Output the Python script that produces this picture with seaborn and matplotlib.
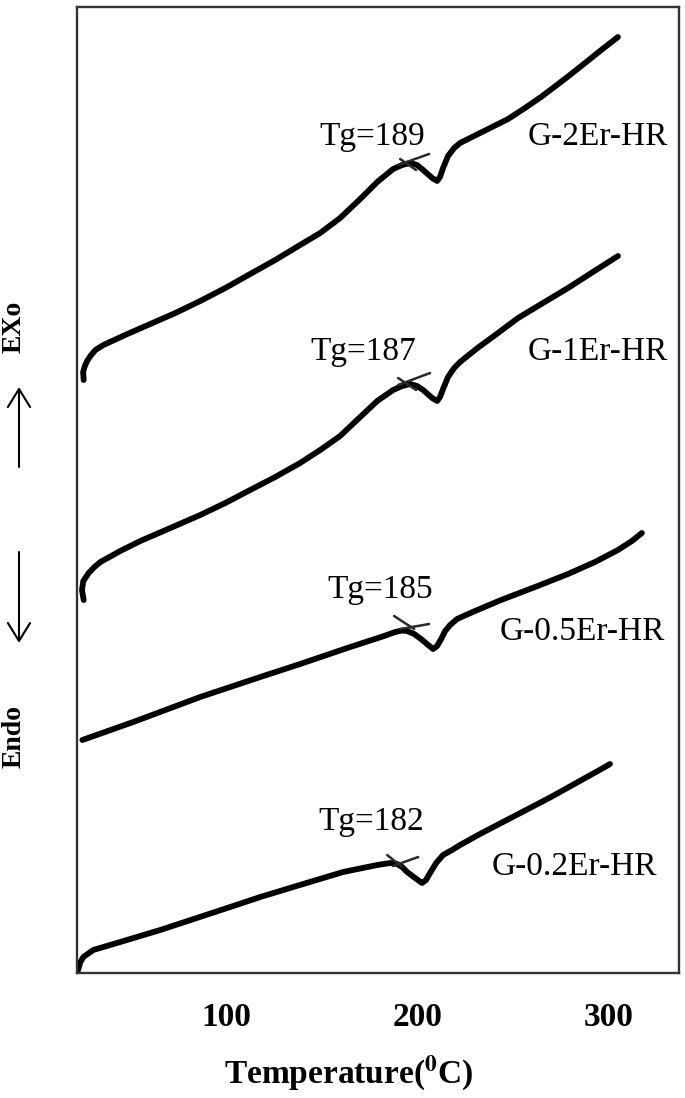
import numpy as np
import pandas as pd
import matplotlib
matplotlib.use("Agg")
import matplotlib.pyplot as plt
import seaborn as sns

# DSC traces (temperature in degC, heat flow in arbitrary units, curves offset)
t_2er = [25.5, 25.2, 26.1, 27.3, 29.0, 31.6, 35.8, 48.3, 60.3, 73.4, 86.4, 99.5, 112.5, 125.6,
         138.6, 149.1, 159.5, 170.0, 178.9, 187.2, 191.9, 196.1, 199.7, 202.9, 207.6, 210.2,
         211.7, 213.3, 215.9, 219.1, 222.2, 229.5, 237.9, 247.3, 256.1, 264.5, 272.8, 279.6,
         287.5, 295.3, 304.7]
h_2er = [59.3, 60.1, 60.7, 61.2, 61.7, 62.3, 62.8, 63.9, 64.9, 66.0, 67.2, 68.5, 69.9, 71.3,
         72.8, 74.0, 75.5, 77.4, 79.1, 80.4, 80.8, 81.0, 80.8, 80.3, 79.5, 79.2,
         79.6, 80.5, 81.7, 82.5, 83.0, 83.7, 84.5, 85.4, 86.5, 87.6, 88.8, 89.8,
         91.0, 92.2, 93.6]

t_1er = [25.5, 24.6, 25.3, 28.1, 31.1, 34.2, 44.6, 55.1, 70.8, 86.4, 99.5, 112.5, 125.6, 138.6,
         149.1, 159.5, 170.0, 178.9, 187.2, 191.9, 196.1, 199.7, 202.9, 207.6, 210.2, 211.7,
         213.3, 215.9, 219.1, 222.2, 231.3, 242.0, 252.5, 265.5, 278.6, 291.6, 304.7]
h_1er = [37.3, 38.3, 39.2, 40.0, 40.6, 41.1, 42.2, 43.2, 44.5, 45.8, 47.0, 48.3, 49.6, 51.0,
         52.3, 53.7, 55.6, 57.2, 58.3, 58.7, 58.9, 58.7, 58.3, 57.5, 57.2, 57.6,
         58.4, 59.6, 60.5, 61.1, 62.5, 64.0, 65.5, 67.0, 68.5, 70.1, 71.7]

t_05er = [24.8, 51.4, 86.4, 117.8, 138.6, 164.8, 182.5, 188.3, 191.9, 194.5, 198.2, 201.8,
          205.5, 208.1, 210.2, 212.3, 214.4, 217.0, 220.6, 230.0, 243.6, 261.4, 278.6, 292.7,
          304.7, 312.0, 317.2]
h_05er = [23.3, 25.1, 27.6, 29.6, 30.9, 32.6, 33.7, 34.1, 34.25, 34.2, 33.9, 33.4,
          32.8, 32.4, 32.7, 33.4, 34.2, 34.8, 35.4, 36.2, 37.3, 38.6, 39.9, 41.1,
          42.3, 43.2, 44.0]

t_02er = [22.2, 23.8, 25.3, 30.5, 44.6, 65.5, 100.5, 117.8, 135.0, 161.1, 178.9, 185.6, 189.3,
          191.9, 194.5, 198.7, 202.3, 204.4, 206.5, 209.7, 213.3, 218.0, 222.2, 232.6, 243.6,
          256.7, 269.7, 283.8, 297.9, 300.5]
h_02er = [0.1, 1.1, 1.6, 2.3, 3.1, 4.3, 6.5, 7.6, 8.6, 10.1, 10.8, 11.0, 10.9,
          10.6, 10.1, 9.5, 9.0, 9.3, 10.0, 11.0, 11.8, 12.3, 12.8, 13.9, 15.0,
          16.3, 17.6, 19.1, 20.6, 20.9]

samples = ["G-2Er-HR", "G-1Er-HR", "G-0.5Er-HR", "G-0.2Er-HR"]
tg_values = [189, 187, 185, 182]

# tangent construction marks: two short strokes per curve (T0, T1, H0, H1)
tangents = [
    [(189.8, 206.0, 80.8, 81.9), (190.9, 199.2, 81.4, 80.3)],
    [(189.8, 206.5, 58.8, 60.0), (189.8, 199.2, 59.5, 58.3)],
    [(191.1, 206.0, 34.4, 34.9), (187.7, 198.2, 35.7, 34.4)],
    [(187.2, 200.3, 10.7, 11.6), (184.1, 191.9, 11.8, 10.6)],
]

# label anchor points (T, H) for Tg text and sample names
tg_pos = [(176.2, 82.8), (171.5, 61.3), (180.2, 37.5), (176.0, 14.3)]
name_pos = [(294.0, 82.8), (294.0, 61.3), (286.2, 33.3), (281.7, 9.8)]

curves = [(t_2er, h_2er), (t_1er, h_1er), (t_05er, h_05er), (t_02er, h_02er)]

sns.set_style("white")
plt.rcParams['font.family'] = ['Liberation Serif', 'DejaVu Serif']
plt.rcParams['mathtext.fontset'] = 'stix'
plt.rcParams['text.color'] = 'black'
plt.rcParams['axes.labelcolor'] = 'black'
plt.rcParams['xtick.labelcolor'] = 'black'

fig = plt.figure(figsize=(6.85, 10.98), dpi=100)
ax = fig.add_axes([77 / 685, 1 - 973 / 1098, 602 / 685, 966 / 1098])

for (t, h), name in zip(curves, samples):
    df = pd.DataFrame({"T": t, "H": h})
    sns.lineplot(data=df, x="T", y="H", ax=ax, sort=False, estimator=None,
                 color="black", lw=4.2, solid_capstyle="round", solid_joinstyle="round")

for strokes in tangents:
    for t0, t1, h0, h1 in strokes:
        ax.plot([t0, t1], [h0, h1], color="#2a2a2a", lw=1.8)

for (tx, ty), tg in zip(tg_pos, tg_values):
    ax.text(tx, ty, f"Tg={tg}", ha="center", va="baseline", fontsize=24, color="black")
for (nx, ny), name in zip(name_pos, samples):
    ax.text(nx, ny, name, ha="center", va="baseline", fontsize=24, color="black")

ax.set_xlim(22, 336.6)
ax.set_ylim(0, 96.6)
ax.set_xticks([100, 200, 300])
ax.set_xticklabels(["100", "200", "300"], fontweight="bold", fontsize=24)
ax.set_yticks([])
ax.tick_params(axis="x", direction="out", length=6, width=1.4, color="#555555", pad=15)
ax.set_xlabel(r"Temperature($^{\mathbf{0}}$C)", fontweight="bold", fontsize=24, va="top")
ax.xaxis.set_label_coords(0.452, -0.084)
ax.set_ylabel("")
for s in ax.spines.values():
    s.set_visible(True)
    s.set_color("#333333")
    s.set_linewidth(1.7)

# Exo / Endo direction markers
fig.text(14 / 685, 1 - 327 / 1098, "EXo", rotation=90, ha="center", va="center",
         fontsize=20, fontweight="bold")
fig.text(14 / 685, 1 - 737 / 1098, "Endo", rotation=90, ha="center", va="center",
         fontsize=20, fontweight="bold")
arrow = dict(arrowstyle="->,head_length=0.65,head_width=0.4", lw=1.5, color="black",
             mutation_scale=20, shrinkA=0, shrinkB=0)
fig.add_artist(matplotlib.patches.FancyArrowPatch(
    (19 / 685, 1 - 467 / 1098), (19 / 685, 1 - 387 / 1098),
    transform=fig.transFigure, **arrow))
fig.add_artist(matplotlib.patches.FancyArrowPatch(
    (19 / 685, 1 - 552 / 1098), (19 / 685, 1 - 643 / 1098),
    transform=fig.transFigure, **arrow))

fig.savefig("out.png", dpi=100)
